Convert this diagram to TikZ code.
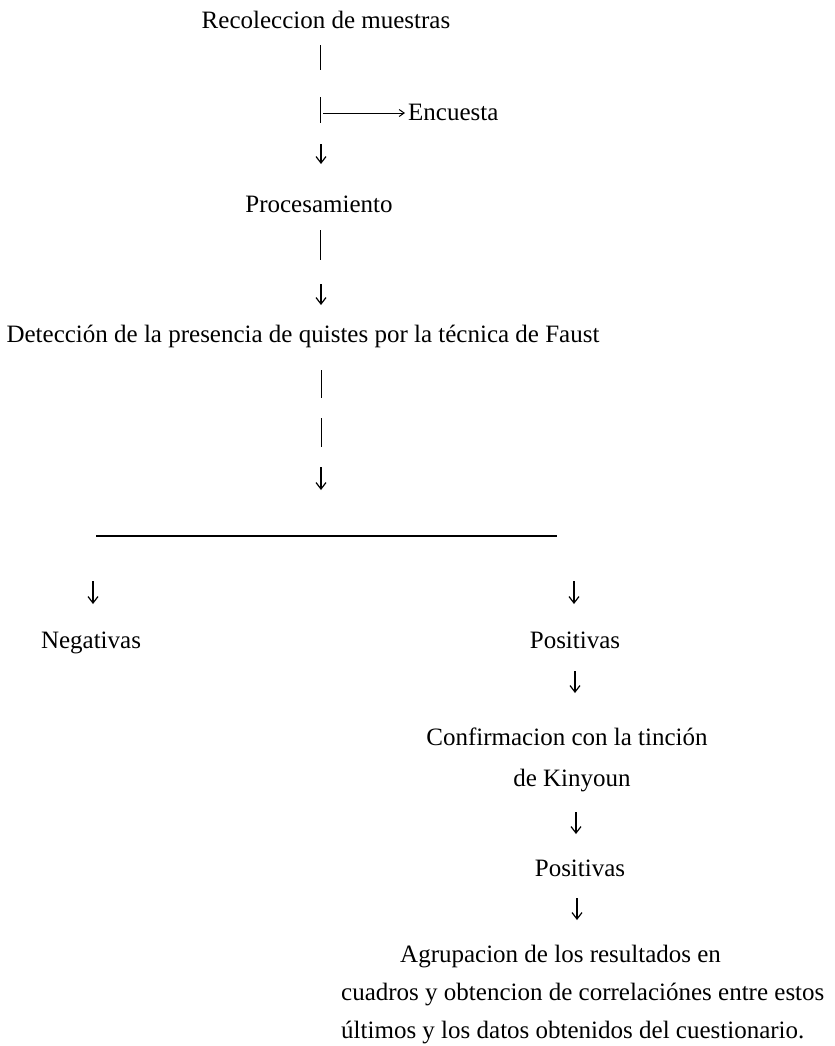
\documentclass[tikz,border=0pt]{standalone}
\usepackage{fontspec}
\setmainfont{Liberation Serif}
\usetikzlibrary{arrows.meta}
\begin{document}
\begin{tikzpicture}[x=1bp,y=-1bp,
  lbl/.style={anchor=base,inner sep=0pt,font=\fontsize{25bp}{30bp}\selectfont},
  seg/.style={line width=1bp},
  darr/.style={line width=1.2bp,-{Straight Barb[length=6.5bp,width=10bp,line width=1.2bp]}},
  harr/.style={line width=1bp,-{Straight Barb[length=5bp,width=7bp,line width=1bp]}},
  hline/.style={line width=1.4bp}]
\path[use as bounding box,fill=white] (0,0) rectangle (835,1046);
% text nodes
\node[lbl] (rec) at (326,28) {Recoleccion de muestras};
\node[lbl,anchor=base west] (enc) at (408,120) {Encuesta};
\node[lbl] (proc) at (319,212) {Procesamiento};
\node[lbl] (det) at (303,342) {Detección de la presencia de quistes por la técnica de Faust};
\node[lbl] (neg) at (91,648) {Negativas};
\node[lbl] (pos1) at (575,648) {Positivas};
\node[lbl] (conf1) at (567,745) {Confirmacion con la tinción};
\node[lbl] (conf2) at (572,786) {de Kinyoun};
\node[lbl] (pos2) at (580,876) {Positivas};
\node[lbl,anchor=base west] (agr1) at (400,962) {Agrupacion de los resultados en};
\node[lbl,anchor=base west] (agr2) at (341,1000) {cuadros y obtencion de correlaciónes entre estos};
\node[lbl,anchor=base west] (agr3) at (341,1038) {últimos y los datos obtenidos del cuestionario.};
% connector points
\coordinate (r1) at (320,45);  \coordinate (r2) at (320,70);
\coordinate (r3) at (320,97);  \coordinate (r4) at (320,123);
\coordinate (r5) at (323,113);
\coordinate (r6) at (321,144); \coordinate (r7) at (321,164);
\coordinate (p1) at (320,230); \coordinate (p2) at (320,260);
\coordinate (p3) at (321,284); \coordinate (p4) at (321,305);
\coordinate (d1) at (321,370); \coordinate (d2) at (321,398);
\coordinate (d3) at (321,418); \coordinate (d4) at (321,447);
\coordinate (d5) at (321,467); \coordinate (d6) at (321,490);
\coordinate (hl) at (96,536);  \coordinate (hr) at (557,536);
\coordinate (n1) at (93,581);  \coordinate (n2) at (93,604);
\coordinate (s1) at (574,581); \coordinate (s2) at (574,604);
\coordinate (q1) at (575,671); \coordinate (q2) at (575,693);
\coordinate (k1) at (576,812); \coordinate (k2) at (576,834);
\coordinate (t1) at (577,898); \coordinate (t2) at (577,920);
% connectors
\draw[seg] (r1) -- (r2);
\draw[seg] (r3) -- (r4);
\draw[harr,shorten >=3bp] (r5) -- (enc.west |- r5);
\draw[darr] (r6) -- (r7);
\draw[seg] (p1) -- (p2);
\draw[darr] (p3) -- (p4);
\draw[seg] (d1) -- (d2);
\draw[seg] (d3) -- (d4);
\draw[darr] (d5) -- (d6);
\draw[hline] (hl) -- (hr);
\draw[darr] (n1) -- (n2);
\draw[darr] (s1) -- (s2);
\draw[darr] (q1) -- (q2);
\draw[darr] (k1) -- (k2);
\draw[darr] (t1) -- (t2);
\end{tikzpicture}
\end{document}
